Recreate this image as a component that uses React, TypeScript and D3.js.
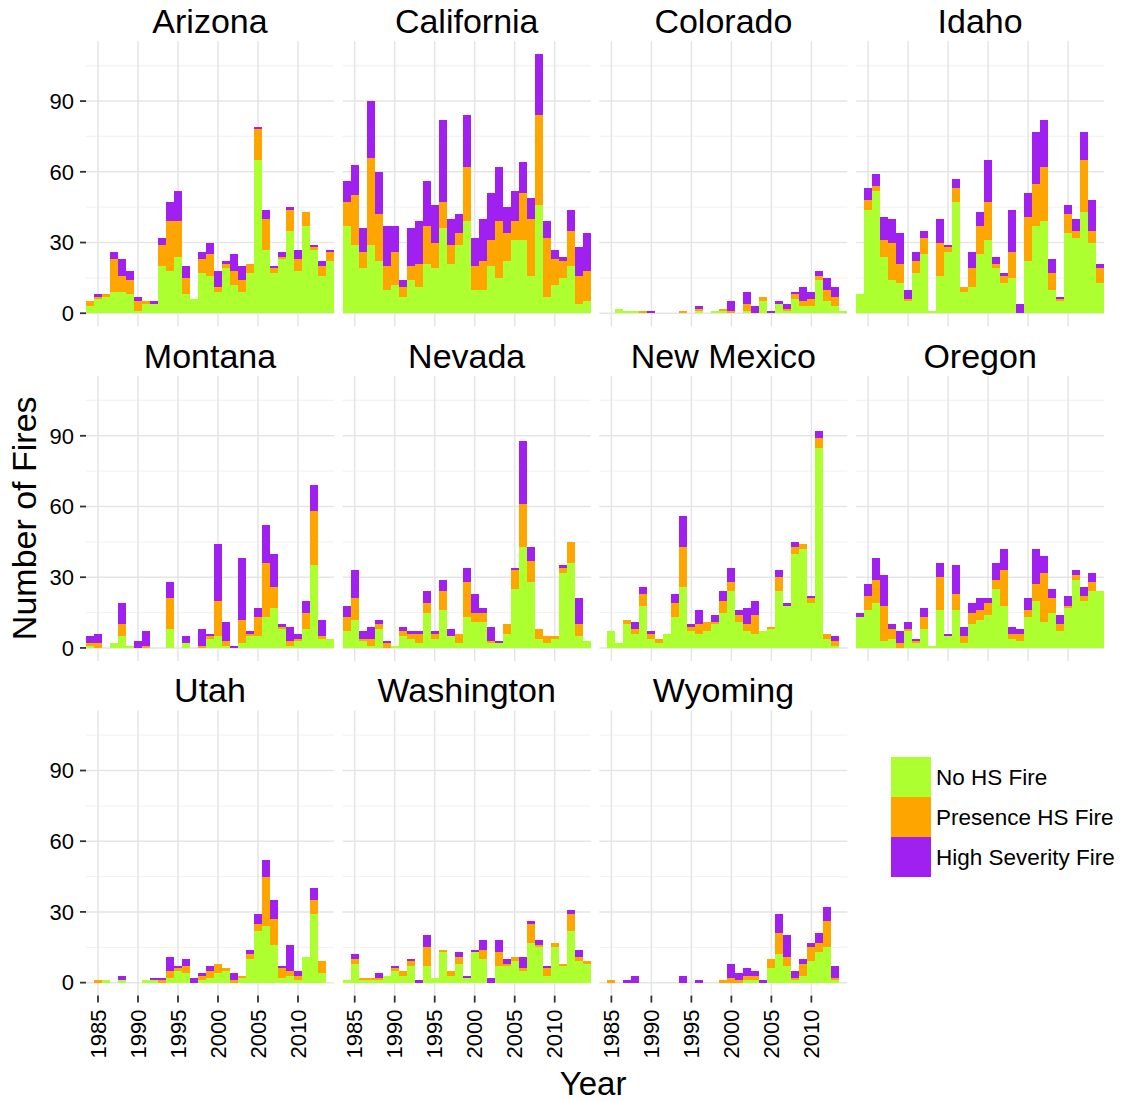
import * as d3 from 'd3';

// ---- data ----
const years = [1984, 1985, 1986, 1987, 1988, 1989, 1990, 1991, 1992, 1993, 1994, 1995, 1996, 1997, 1998, 1999,
  2000, 2001, 2002, 2003, 2004, 2005, 2006, 2007, 2008, 2009, 2010, 2011, 2012, 2013, 2014];
const states = ['Arizona', 'California', 'Colorado', 'Idaho', 'Montana', 'Nevada', 'New Mexico', 'Oregon',
  'Utah', 'Washington', 'Wyoming'];
const seriesNames = ['No HS Fire', 'Presence HS Fire', 'High Severity Fire'];
const seriesColors = ['#adff2f', '#ffa500', '#a020f0'];
const yTicks = [0, 30, 60, 90];
const yMinor = [15, 45, 75, 105];
const xTicks = [1985, 1990, 1995, 2000, 2005, 2010];

const azNo = [3, 6, 7, 9, 9, 8, 1, 4, 4, 20, 18, 24, 8, 6, 17, 16, 9, 19, 12, 9, 17, 65, 27, 17, 23, 35, 18, 37, 27, 16, 22];
const azPres = [2, 1, 1, 14, 7, 6, 4, 1, 0, 9, 21, 15, 7, 0, 6, 9, 2, 2, 6, 5, 4, 13, 13, 2, 1, 9, 5, 6, 1, 4, 4];
const azHigh = [0, 1, 0, 3, 7, 4, 2, 0, 1, 3, 8, 13, 5, 0, 3, 5, 7, 1, 7, 6, 0, 1, 4, 1, 2, 1, 4, 0, 1, 2, 1];

const caNo = [37, 29, 19, 29, 22, 10, 12, 7, 14, 11, 21, 19, 36, 21, 29, 39, 10, 10, 20, 15, 22, 31, 31, 16, 46, 7, 12, 15, 20, 4, 5];
const caPres = [10, 21, 7, 37, 20, 10, 14, 4, 6, 10, 16, 11, 11, 8, 5, 23, 10, 12, 11, 24, 12, 8, 20, 24, 38, 25, 11, 7, 15, 12, 13];
const caHigh = [9, 13, 10, 24, 18, 17, 11, 3, 16, 18, 19, 16, 35, 11, 8, 22, 12, 18, 20, 23, 11, 13, 13, 9, 26, 7, 4, 2, 9, 12, 16];

const coNo = [0, 0, 2, 1, 1, 0, 0, 0, 0, 0, 0, 0, 1, 0, 1, 1, 0, 0, 1, 0, 5, 0, 4, 1, 6, 3, 3, 14, 5, 3, 1];
const coPres = [0, 0, 0, 0, 0, 1, 0, 0, 0, 0, 1, 0, 1, 0, 0, 1, 1, 0, 3, 0, 2, 0, 0, 1, 2, 2, 3, 2, 5, 4, 0];
const coHigh = [0, 0, 0, 0, 0, 0, 1, 0, 0, 0, 0, 0, 1, 0, 0, 0, 4, 0, 5, 3, 0, 1, 1, 2, 1, 6, 3, 2, 5, 4, 0];

const idNo = [8, 44, 52, 24, 14, 13, 5, 17, 25, 1, 16, 26, 47, 9, 11, 25, 31, 19, 13, 15, 0, 22, 37, 39, 10, 5, 34, 32, 43, 30, 13];
const idPres = [0, 4, 2, 7, 16, 8, 1, 5, 7, 0, 14, 2, 6, 2, 8, 12, 16, 2, 3, 11, 0, 19, 18, 23, 7, 1, 8, 3, 22, 5, 6];
const idHigh = [0, 5, 5, 10, 10, 13, 4, 4, 3, 0, 10, 1, 4, 0, 7, 6, 18, 3, 1, 18, 4, 10, 22, 20, 6, 1, 4, 5, 12, 13, 2];

const mtNo = [1, 0, 0, 2, 5, 1, 0, 0, 0, 0, 8, 0, 2, 0, 0, 4, 5, 1, 0, 2, 5, 5, 13, 17, 8, 1, 3, 8, 35, 4, 4];
const mtPres = [1, 2, 0, 0, 5, 0, 0, 1, 0, 0, 13, 0, 0, 0, 1, 1, 15, 2, 0, 10, 1, 8, 23, 9, 1, 2, 1, 7, 23, 1, 0];
const mtHigh = [3, 4, 0, 0, 9, 0, 3, 6, 0, 0, 7, 0, 3, 0, 7, 1, 24, 8, 1, 26, 1, 4, 16, 14, 1, 6, 2, 5, 11, 7, 0];

const nvNo = [7, 12, 3, 1, 8, 0, 1, 5, 4, 2, 15, 4, 16, 5, 2, 13, 11, 11, 2, 2, 6, 25, 43, 28, 4, 2, 4, 32, 36, 5, 3];
const nvPres = [6, 9, 1, 3, 2, 2, 0, 2, 2, 4, 4, 2, 8, 0, 4, 15, 4, 4, 1, 0, 4, 8, 18, 9, 4, 3, 1, 2, 9, 5, 0];
const nvHigh = [5, 12, 3, 5, 2, 1, 0, 2, 1, 1, 5, 1, 5, 3, 0, 6, 8, 2, 6, 1, 0, 1, 27, 6, 0, 0, 0, 1, 0, 11, 0];

const nmNo = [0, 7, 2, 10, 6, 18, 4, 2, 6, 13, 26, 7, 6, 7, 10, 15, 24, 11, 7, 6, 7, 8, 24, 18, 40, 42, 19, 85, 4, 1, 0];
const nmPres = [0, 0, 0, 2, 2, 5, 2, 2, 0, 6, 17, 2, 4, 4, 1, 5, 4, 3, 3, 8, 0, 1, 6, 0, 3, 2, 2, 4, 2, 2, 0];
const nmHigh = [0, 0, 0, 0, 3, 3, 1, 0, 0, 4, 13, 1, 6, 0, 3, 4, 6, 2, 7, 6, 0, 0, 3, 1, 2, 0, 1, 3, 0, 2, 0];

const orNo = [13, 16, 19, 3, 4, 0, 7, 2, 8, 1, 16, 5, 16, 2, 10, 12, 14, 25, 18, 4, 3, 13, 20, 11, 15, 7, 17, 29, 20, 24, 24];
const orPres = [0, 6, 10, 15, 4, 2, 1, 1, 5, 0, 14, 0, 7, 3, 5, 4, 5, 4, 15, 2, 3, 3, 7, 21, 6, 3, 1, 2, 2, 4, 0];
const orHigh = [2, 5, 9, 13, 2, 5, 3, 1, 4, 0, 6, 1, 12, 4, 4, 5, 2, 7, 9, 3, 2, 5, 15, 7, 4, 4, 4, 2, 4, 4, 0];

const utNo = [0, 0, 1, 0, 1, 0, 0, 1, 1, 0, 2, 5, 4, 0, 1, 2, 4, 5, 0, 2, 10, 22, 24, 16, 2, 3, 1, 11, 29, 4, 0];
const utPres = [0, 1, 0, 0, 0, 0, 0, 0, 0, 1, 3, 1, 3, 0, 2, 3, 4, 1, 1, 1, 2, 3, 21, 11, 4, 2, 2, 0, 6, 5, 0];
const utHigh = [0, 0, 0, 0, 2, 0, 0, 0, 1, 1, 6, 1, 3, 2, 1, 2, 0, 0, 3, 0, 2, 4, 7, 8, 1, 11, 2, 0, 5, 0, 0];

const waNo = [1, 8, 1, 1, 1, 3, 5, 3, 7, 0, 7, 2, 13, 3, 8, 2, 13, 10, 0, 7, 7, 9, 5, 17, 15, 3, 15, 7, 22, 9, 8];
const waPres = [0, 2, 1, 1, 1, 0, 1, 2, 2, 0, 8, 0, 1, 2, 3, 0, 0, 4, 0, 6, 1, 2, 1, 8, 1, 3, 2, 1, 7, 2, 1];
const waHigh = [0, 2, 0, 0, 2, 0, 1, 0, 1, 1, 5, 0, 0, 0, 2, 1, 1, 4, 2, 5, 2, 0, 5, 1, 2, 1, 0, 0, 2, 3, 0];

const wyNo = [0, 0, 0, 0, 0, 0, 0, 0, 0, 0, 0, 0, 0, 0, 0, 0, 0, 0, 1, 1, 0, 6, 12, 7, 1, 3, 9, 13, 15, 1, 0];
const wyPres = [0, 1, 0, 0, 0, 0, 0, 0, 0, 0, 0, 0, 0, 0, 0, 1, 2, 1, 2, 2, 0, 4, 9, 4, 1, 5, 6, 4, 11, 1, 0];
const wyHigh = [0, 0, 0, 1, 3, 0, 0, 0, 0, 0, 3, 0, 1, 0, 0, 0, 6, 3, 3, 2, 1, 0, 8, 9, 3, 2, 2, 4, 6, 5, 0];

const stateSeries: Record<string, number[][]> = {
  Arizona: [azNo, azPres, azHigh],
  California: [caNo, caPres, caHigh],
  Colorado: [coNo, coPres, coHigh],
  Idaho: [idNo, idPres, idHigh],
  Montana: [mtNo, mtPres, mtHigh],
  Nevada: [nvNo, nvPres, nvHigh],
  'New Mexico': [nmNo, nmPres, nmHigh],
  Oregon: [orNo, orPres, orHigh],
  Utah: [utNo, utPres, utHigh],
  Washington: [waNo, waPres, waHigh],
  Wyoming: [wyNo, wyPres, wyHigh],
};

// ---- layout ----
const W = 1122;
const H = 1101;
const panelW = 248;
const panelH = 285.2;
const colStep = 256.7;
const rowStep = 334.7;
const left0 = 86;
const top0 = 41;
const FONT = '"Liberation Sans", Arial, Helvetica, sans-serif';
const keys = ['no', 'pres', 'high'];

const x = d3.scaleLinear().domain([1983.5, 2014.5]).range([0, panelW]);
const y = d3.scaleLinear().domain([-5.5, 115.5]).range([panelH, 0]);

function Panel({ name, idx }: { name: string; idx: number }) {
  const col = idx % 4;
  const row = Math.floor(idx / 4);
  const px = left0 + col * colStep;
  const py = top0 + row * rowStep;
  const [a, b, c] = stateSeries[name];
  const table = years.map((yr, i) => ({ year: yr, no: a[i], pres: b[i], high: c[i] }));
  const stacked = d3.stack<any>().keys(keys)(table);
  const bottomRow = idx >= 8;

  return (
    <g transform={`translate(${px},${py})`}>
      {yMinor.map(t => (
        <line key={'m' + t} x1={0} x2={panelW} y1={y(t)} y2={y(t)} stroke="#f3f3f3" strokeWidth={1.3} />
      ))}
      {yTicks.map(t => (
        <line key={'y' + t} x1={0} x2={panelW} y1={y(t)} y2={y(t)} stroke="#e5e5e5" strokeWidth={1.5} />
      ))}
      {xTicks.map(t => (
        <line key={'x' + t} x1={x(t)} x2={x(t)} y1={0} y2={panelH} stroke="#e5e5e5" strokeWidth={1.5} />
      ))}
      {stacked.map((s, si) => (
        <g key={s.key} fill={seriesColors[si]}>
          {s.map((d, i) => d[1] > d[0] ? (
            <rect key={i} x={x(years[i] - 0.5)} width={x(years[i] + 0.5) - x(years[i] - 0.5)}
              y={y(d[1])} height={y(d[0]) - y(d[1])} shapeRendering="crispEdges" />
          ) : null)}
        </g>
      ))}
      <text x={panelW / 2} y={-8} textAnchor="middle" fontSize={34} fill="#000">{name}</text>
      {col === 0 && yTicks.map(t => (
        <g key={'yt' + t} transform={`translate(0,${y(t)})`}>
          <line x1={-6} x2={0} stroke="#333" strokeWidth={1.8} />
          <text x={-12} dy="0.35em" textAnchor="end" fontSize={22} fill="#000">{t}</text>
        </g>
      ))}
      {bottomRow && xTicks.map(t => (
        <g key={'xt' + t} transform={`translate(${x(t)},${panelH})`}>
          <line y1={0} y2={7} stroke="#333" strokeWidth={1.8} />
          <text transform="translate(0,14) rotate(-90)" dy="0.35em" textAnchor="end" fontSize={22} fill="#000">{t}</text>
        </g>
      ))}
    </g>
  );
}

export default function App() {
  const legendX = 891;
  const legendY = 757;
  const keySize = 40;
  return (
    <svg width={W} height={H} style={{ position: 'absolute', left: 0, top: 0, background: '#fff' }}
      fontFamily={FONT}>
      <rect width={W} height={H} fill="#fff" />
      {states.map((s, i) => <Panel key={s} name={s} idx={i} />)}
      <text transform={`translate(24,${top0 + (2 * rowStep + panelH) / 2}) rotate(-90)`} textAnchor="middle"
        dy="0.35em" fontSize={34} fill="#000">Number of Fires</text>
      <text x={(left0 + 3 * colStep + panelW + left0) / 2 - 2} y={1083} textAnchor="middle" dy="0.35em"
        fontSize={33} fill="#000">Year</text>
      {seriesNames.map((n, i) => (
        <g key={n} transform={`translate(${legendX},${legendY + i * keySize})`}>
          <rect width={keySize} height={keySize} fill={seriesColors[i]} />
          <text x={keySize + 5} y={keySize / 2} dy="0.35em" fontSize={22.5} fill="#000">{n}</text>
        </g>
      ))}
    </svg>
  );
}
